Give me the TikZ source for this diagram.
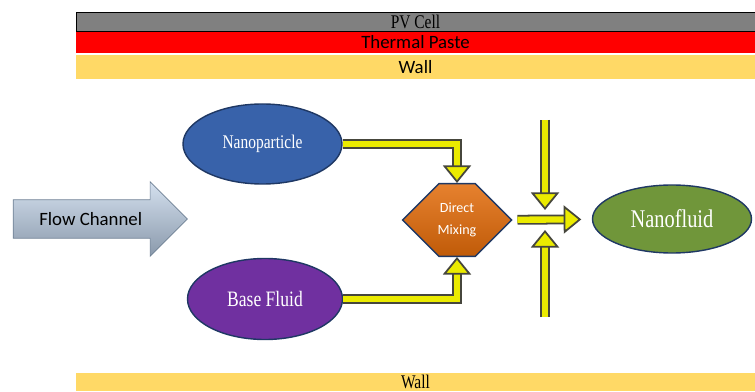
\documentclass[tikz,border=0pt]{standalone}
\usepackage{fontspec}
\setmainfont{Carlito}
\newfontfamily\narrowserif{Liberation Serif}[FakeStretch=0.8]
\usetikzlibrary{shapes.geometric, shapes.arrows, shapes.misc, arrows.meta, positioning}

\definecolor{pvgray}{RGB}{128, 128, 128}
\definecolor{pastered}{RGB}{255, 0, 0}
\definecolor{wallyellow}{RGB}{255, 217, 102}
\definecolor{chanblue}{RGB}{184, 204, 228}
\definecolor{chanedge}{RGB}{110, 128, 148}
\definecolor{npblue}{RGB}{56, 98, 170}
\definecolor{bfpurple}{RGB}{112, 48, 160}
\definecolor{nfgreen}{RGB}{112, 150, 58}
\definecolor{mixorange}{RGB}{226, 107, 10}
\definecolor{darkedge}{RGB}{31, 56, 100}
\definecolor{pipeyellow}{RGB}{235, 235, 0}
\definecolor{pipeedge}{RGB}{70, 70, 60}

\tikzset{
  layer/.style={minimum width=13.58cm, inner sep=0pt, font=\fontsize{10.7}{12}\selectfont},
  blob/.style={ellipse, draw=darkedge, line width=0.8pt, text=white, inner sep=0pt},
  pipe/.style={draw=pipeedge, line width=1pt, double=pipeyellow, double distance=3.6pt,
    -{Triangle[width=16pt, length=10pt, fill=pipeyellow]}}
}

\begin{document}
\begin{tikzpicture}
  \useasboundingbox (0, 0) rectangle (15.1, 7.82);

  % Layers
  \node[layer, draw=black, fill=pvgray, minimum height=0.38cm, font=\narrowserif\fontsize{11}{12}\selectfont] (pvcell) at (8.31, 7.39) {PV Cell};
  \node[layer, fill=pastered, minimum height=0.42cm] (paste) at (8.31, 6.97) {Thermal Paste};
  \node[layer, fill=wallyellow, minimum height=0.48cm] (walltop) at (8.31, 6.48) {Wall};
  \node[layer, fill=wallyellow, minimum height=0.36cm, font=\narrowserif\fontsize{11}{12}\selectfont] (wallbot) at (8.31, 0.18) {Wall};

  % Flow channel
  \node[single arrow, draw=chanedge, top color=chanblue!60!white, bottom color=chanblue!75!black,
    minimum height=3.48cm, single arrow head extend=0.36cm, single arrow head indent=0pt,
    inner ysep=7pt, anchor=tail, font=\fontsize{10.7}{12}\selectfont] (channel) at (0.26, 3.44) {Flow Channel};

  % Ingredients
  \node[blob, fill=npblue, minimum width=3.18cm, minimum height=1.6cm, font=\narrowserif\fontsize{11}{13}\selectfont] (nano) at (5.25, 4.94) {Nanoparticle};
  \node[blob, fill=bfpurple, minimum width=3.1cm, minimum height=1.62cm, font=\narrowserif\fontsize{12.5}{14}\selectfont] (base) at (5.3, 1.84) {Base Fluid};

  % Mixing
  \node[chamfered rectangle, chamfered rectangle xsep=0.38cm, chamfered rectangle ysep=0.69cm,
    draw=darkedge, line width=0.8pt, top color=mixorange!85!white, bottom color=mixorange!85!black,
    minimum width=2.18cm, minimum height=1.38cm, inner sep=0pt, text=white, align=center,
    font=\fontsize{8}{12.5}\selectfont] (mix) at (9.14, 3.42) {Direct\\Mixing};

  \node[blob, fill=nfgreen, minimum width=3.18cm, minimum height=1.36cm, font=\narrowserif\fontsize{14.5}{16}\selectfont] (fluid) at (13.44, 3.44) {Nanofluid};

  \coordinate (topin) at (10.9, 5.42);
  \coordinate (topend) at (10.9, 3.62);
  \coordinate (botin) at (10.9, 1.48);
  \coordinate (botend) at (10.9, 3.22);

  % Connectors
  \draw[pipe] (nano.east) -| (mix.north);
  \draw[pipe] (base.east) -| (mix.south);
  \draw[pipe, shorten <=3pt, shorten >=6pt] (mix) -- (fluid);
  \draw[pipe] (topin) -- (topend);
  \draw[pipe] (botin) -- (botend);
\end{tikzpicture}
\end{document}
